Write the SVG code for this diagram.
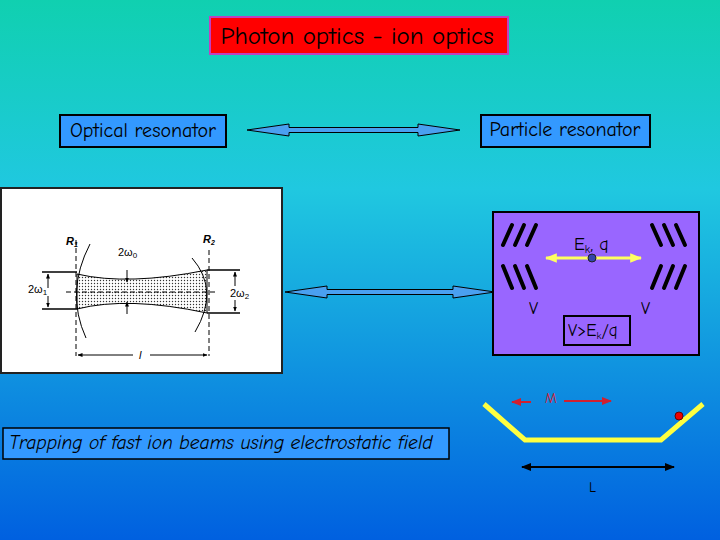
<svg xmlns="http://www.w3.org/2000/svg" width="720" height="540" viewBox="0 0 720 540">
<defs>
<linearGradient id="bg" x1="0" y1="0" x2="0" y2="1"><stop offset="0" stop-color="#10d0b0"/><stop offset="0.35" stop-color="#20c8e0"/><stop offset="1" stop-color="#0060e0"/></linearGradient>
<pattern id="dots" width="3" height="3" patternUnits="userSpaceOnUse"><rect width="3" height="3" fill="#fff"/><circle cx="1.5" cy="1.5" r="0.7" fill="#333"/></pattern>
<marker id="ar" viewBox="0 0 10 10" refX="9" refY="5" markerWidth="5" markerHeight="5" orient="auto"><path d="M0,1 L10,5 L0,9 Z" fill="#d02030"/></marker>
<marker id="ay" viewBox="0 0 10 10" refX="9" refY="5" markerWidth="4" markerHeight="4" orient="auto-start-reverse"><path d="M0,1 L10,5 L0,9 Z" fill="#ffff60"/></marker>
<marker id="as" viewBox="0 0 10 10" refX="9" refY="5" markerWidth="5" markerHeight="5" orient="auto-start-reverse"><path d="M0,1 L10,5 L0,9 Z" fill="#000"/></marker>
</defs>
<style>
text{font-family:"Comic Neue","Comic Sans MS","DejaVu Sans",sans-serif;fill:#000}
.lbl{font-size:20px}
.box{fill:#3399ff;stroke:#000;stroke-width:2}
.blk{fill:#4aa0f0;stroke:#000;stroke-width:1}
.bar{stroke:#000;stroke-width:4;stroke-linecap:round}
.sm{font-family:"Liberation Sans",sans-serif;font-size:11px}
</style>
<rect width="720" height="540" fill="url(#bg)"/>
<g id="title"><rect x="210" y="17" width="298" height="37" fill="#ff0000" stroke="#c040c0" stroke-width="2"/><text x="357" y="44" text-anchor="middle" font-size="25">Photon optics - ion optics</text></g>
<g id="optical"><rect class="box" x="60" y="115" width="166" height="32"/><text class="lbl" x="143" y="137" text-anchor="middle">Optical resonator</text></g>
<g id="particle"><rect class="box" x="481" y="115" width="169" height="32"/><text class="lbl" x="565" y="136" text-anchor="middle">Particle resonator</text></g>
<g id="connectors">
<path class="blk" d="M247,130 L289,124 L289,127.5 L418,127.5 L418,124 L460,130 L418,136 L418,132.5 L289,132.5 L289,136 Z"/>
<path class="blk" d="M285,292 L327,286 L327,289.5 L453,289.5 L453,286 L495,292 L453,298 L453,294.5 L327,294.5 L327,298 Z"/>
</g>
<g id="optical-image">
<rect x="1" y="188" width="281" height="185" fill="#fff" stroke="#222" stroke-width="2"/>
<path d="M77,274 Q128,286 207,270 L207,313 Q128,296 77,309 Z" fill="url(#dots)" stroke="#000"/>
<path d="M90,244 Q65,292 86,338" fill="none" stroke="#000"/>
<path d="M192,258 Q220,290 195,332" fill="none" stroke="#000"/>
<line x1="76" y1="240" x2="76" y2="356" stroke="#000" stroke-dasharray="5,3"/>
<line x1="209" y1="250" x2="209" y2="356" stroke="#000" stroke-dasharray="5,3"/>
<line x1="66" y1="292" x2="216" y2="292" stroke="#000" stroke-dasharray="5,3"/>
<line x1="42" y1="272" x2="77" y2="272" stroke="#000" stroke-width="1.5"/><line x1="42" y1="309" x2="77" y2="309" stroke="#000" stroke-width="1.5"/>
<line x1="48" y1="288" x2="48" y2="274" stroke="#000" marker-end="url(#as)"/><line x1="48" y1="296" x2="48" y2="307" stroke="#000" marker-end="url(#as)"/>
<line x1="207" y1="270" x2="240" y2="270" stroke="#000" stroke-width="1.5"/><line x1="207" y1="313" x2="240" y2="313" stroke="#000" stroke-width="1.5"/>
<line x1="235" y1="286" x2="235" y2="272" stroke="#000" marker-end="url(#as)"/><line x1="235" y1="300" x2="235" y2="311" stroke="#000" marker-end="url(#as)"/>
<line x1="127" y1="270" x2="127" y2="282" stroke="#000" marker-end="url(#as)"/><line x1="127" y1="314" x2="127" y2="302" stroke="#000" marker-end="url(#as)"/>
<line x1="78" y1="355" x2="133" y2="355" stroke="#000" marker-start="url(#as)"/><line x1="150" y1="355" x2="207" y2="355" stroke="#000" marker-end="url(#as)"/>
<text class="sm" x="66" y="245" font-weight="bold" font-style="italic">R<tspan font-size="7" dy="2">1</tspan></text>
<text class="sm" x="203" y="243" font-weight="bold" font-style="italic">R<tspan font-size="7" dy="2">2</tspan></text>
<text class="sm" x="118" y="256">2ω<tspan font-size="8" dy="2">0</tspan></text>
<text class="sm" x="28" y="293">2ω<tspan font-size="8" dy="2">1</tspan></text>
<text class="sm" x="230" y="297">2ω<tspan font-size="8" dy="2">2</tspan></text>
<text class="sm" x="139" y="359" font-style="italic">l</text>
</g>
<g id="particle-image">
<rect x="493" y="212" width="206" height="143" fill="#9966ff" stroke="#000" stroke-width="2"/>
<g class="bar"><line x1="503" y1="245" x2="512" y2="225"/><line x1="515" y1="245" x2="524" y2="225"/><line x1="527" y1="245" x2="536" y2="225"/>
<line x1="503" y1="266" x2="512" y2="288"/><line x1="515" y1="266" x2="524" y2="288"/><line x1="527" y1="266" x2="536" y2="288"/>
<line x1="652" y1="225" x2="661" y2="245"/><line x1="664" y1="225" x2="673" y2="245"/><line x1="676" y1="225" x2="685" y2="245"/>
<line x1="652" y1="288" x2="661" y2="266"/><line x1="664" y1="288" x2="673" y2="266"/><line x1="676" y1="288" x2="685" y2="266"/></g>
<line x1="546" y1="258" x2="641" y2="258" stroke="#ffff60" stroke-width="3" marker-start="url(#ay)" marker-end="url(#ay)"/>
<circle cx="592" cy="258" r="4" fill="#3344aa" stroke="#222"/>
<text x="574" y="250" font-size="18">E<tspan font-size="11" dy="3">k</tspan><tspan dy="-3">, q</tspan></text>
<text x="529" y="314" font-size="17">V</text><text x="641" y="314" font-size="17">V</text>
<rect x="564" y="316" width="66" height="29" fill="none" stroke="#000" stroke-width="2"/>
<text x="568" y="336" font-size="17">V&gt;E<tspan font-size="10" dy="3">k</tspan><tspan dy="-3">/q</tspan></text>
</g>
<g id="trapping"><rect x="3" y="428" width="446" height="31" fill="#3399ff" stroke="#000" stroke-width="1.5"/><text x="9" y="449" font-size="19.5" font-style="italic">Trapping of fast ion beams using electrostatic field</text></g>
<g id="trap-image">
<polyline points="484,404 525,440 661,440 703,404" fill="none" stroke="#ffff40" stroke-width="5"/>
<circle cx="679" cy="416" r="4" fill="#e00" stroke="#600"/>
<line x1="531" y1="402" x2="512" y2="402" stroke="#d02030" stroke-width="2" marker-end="url(#ar)"/>
<line x1="564" y1="401" x2="611" y2="401" stroke="#d02030" stroke-width="2" marker-end="url(#ar)"/>
<text x="545" y="403" font-family="Liberation Serif,serif" font-size="14" style="fill:#d02030">M</text>
<line x1="522" y1="467" x2="674" y2="467" stroke="#000" stroke-width="2" marker-start="url(#as)" marker-end="url(#as)"/>
<text x="589" y="492" font-family="Liberation Serif,serif" font-size="14">L</text>
</g>
</svg>
